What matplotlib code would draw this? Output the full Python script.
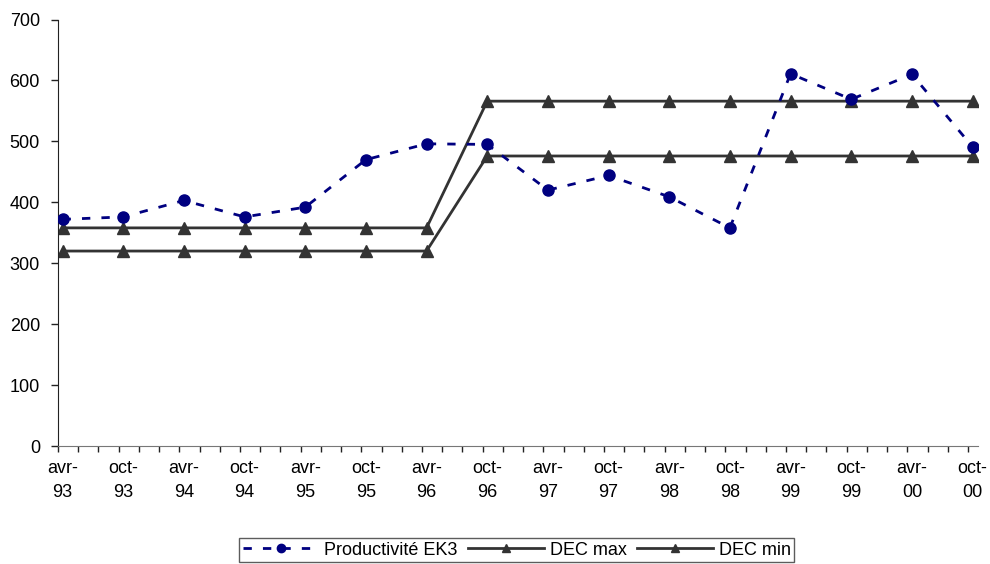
import numpy as np
import matplotlib
matplotlib.use("Agg")
import matplotlib.pyplot as plt
from matplotlib.ticker import FixedLocator, NullFormatter

plt.rcParams['font.family'] = ['Liberation Sans', 'DejaVu Sans']

# semesters, avr-93 .. oct-00
labels = ['avr-\n93', 'oct-\n93', 'avr-\n94', 'oct-\n94', 'avr-\n95', 'oct-\n95',
          'avr-\n96', 'oct-\n96', 'avr-\n97', 'oct-\n97', 'avr-\n98', 'oct-\n98',
          'avr-\n99', 'oct-\n99', 'avr-\n00', 'oct-\n00']
months = [0.45 + 6 * i for i in range(len(labels))]  # mid-month, months since 1 Apr 93

productivite = [372, 376, 403, 376, 392, 470, 496, 495,
                420, 444, 409, 358, 611, 569, 610, 491]
dec_max = [358, 358, 358, 358, 358, 358, 358, 566,
           566, 566, 566, 566, 566, 566, 566, 566]
dec_min = [320, 320, 320, 320, 320, 320, 320, 476,
           476, 476, 476, 476, 476, 476, 476, 476]

fig = plt.figure(figsize=(9.9, 5.64), dpi=100)
ax = fig.add_axes([0.0586, 0.2092, 0.9294, 0.7562])

ax.plot(months, productivite, color='#000080', linestyle=(0, (3, 4)), linewidth=2,
        marker='o', markersize=8, label='Productivité EK3', zorder=3)
ax.plot(months, dec_max, color='#333333', linewidth=2,
        marker='^', markersize=8, label='DEC max', zorder=2)
ax.plot(months, dec_min, color='#333333', linewidth=2,
        marker='^', markersize=8, label='DEC min', zorder=2)

ax.set_xlim(0, 91)
ax.set_ylim(0, 700)
ax.set_yticks(range(0, 701, 100))

ax.xaxis.set_major_locator(FixedLocator(np.arange(0, 91, 2)))
ax.xaxis.set_major_formatter(NullFormatter())
ax.xaxis.set_minor_locator(FixedLocator(months))
ax.set_xticklabels(labels, minor=True, linespacing=1.55)
ax.tick_params(axis='x', which='major', direction='out', length=4, width=1, color='#222222')
ax.tick_params(axis='x', which='minor', length=0, pad=10, labelsize=13)
ax.tick_params(axis='y', direction='out', length=5, width=1, labelsize=13, pad=8,
               color='#222222')

for s in ['top', 'right']:
    ax.spines[s].set_visible(False)
ax.spines['left'].set_color('#222222')
ax.spines['bottom'].set_color('#777777')

leg = fig.legend(loc='lower center', bbox_to_anchor=(0.522, 0.003), ncol=3, frameon=True,
                 fancybox=False, edgecolor='#333333', fontsize=13, markerscale=0.75,
                 handlelength=4.2, handletextpad=0.3, columnspacing=0.6,
                 borderpad=0.2, borderaxespad=0)
leg.get_frame().set_linewidth(1)

fig.savefig('out.png', dpi=100)
